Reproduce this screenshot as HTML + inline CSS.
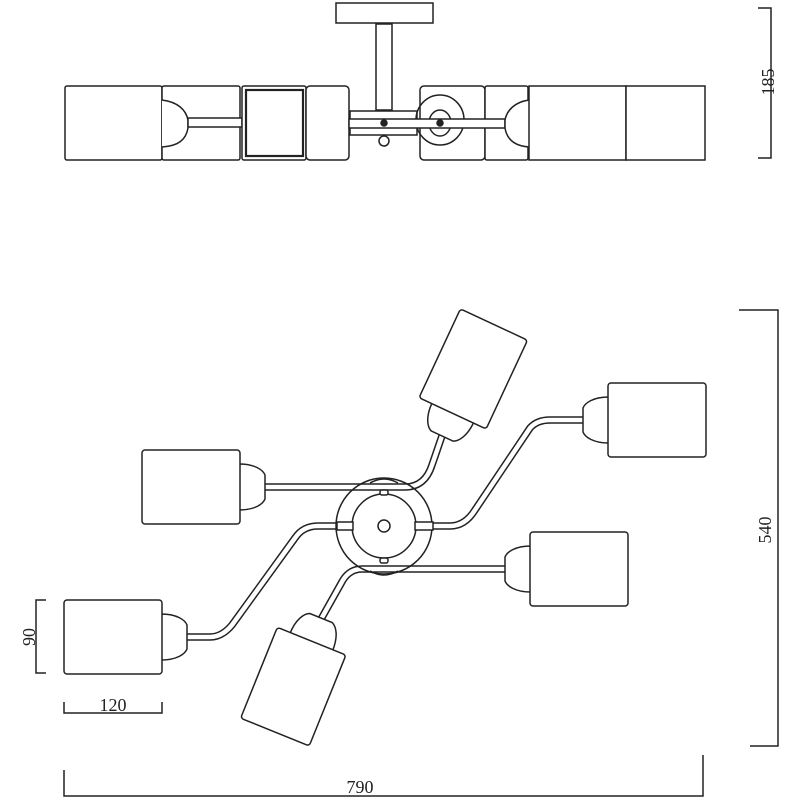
<!DOCTYPE html>
<html><head><meta charset="utf-8"><style>
html,body{margin:0;padding:0;background:#fff;}
svg{display:block}
text{font-family:"Liberation Serif",serif;fill:#222}
</style></head><body>
<svg width="800" height="800" viewBox="0 0 800 800" xmlns="http://www.w3.org/2000/svg">
<defs>
<g id="lamp" fill="#fff" stroke="#222" stroke-width="1.5">
<path d="M26,-23 C10,-23 2,-17 0,-12 L0,12 C2,17 10,23 26,23 Z"/>
<rect x="25" y="-37" width="98" height="74" rx="3"/>
</g>
</defs>
<g fill="none" stroke="#222" stroke-width="1.5">
<rect x="336" y="3" width="97" height="20" fill="#fff"/>
<rect x="376" y="24" width="16" height="86" fill="#fff"/>
<rect x="65" y="86" width="97" height="74" rx="2" fill="#fff"/>
<rect x="162" y="86" width="78" height="74" rx="2" fill="#fff"/>
<path d="M162,100 C178,102 186,110 188,120 L188,128 C186,140 178,146 162,147" fill="#fff"/>
<rect x="188" y="118" width="54" height="9" fill="#fff"/>
<rect x="242" y="86" width="64" height="74" rx="2" fill="#fff"/>
<rect x="246" y="90" width="57" height="66" stroke-width="2.2"/>
<rect x="306" y="86" width="43" height="74" rx="4" fill="#fff"/>
<rect x="350" y="111" width="67" height="24" fill="#fff"/>
<circle cx="384" cy="141" r="5" fill="#fff"/>
<rect x="420" y="86" width="65" height="74" rx="4" fill="#fff"/>
<rect x="485" y="86" width="43" height="74" rx="2" fill="#fff"/>
<ellipse cx="440" cy="120" rx="24" ry="25"/>
<ellipse cx="440" cy="123" rx="11" ry="13"/>
<rect x="349" y="119" width="156" height="9" fill="#fff"/>
<circle cx="384" cy="123" r="3" fill="#222"/>
<circle cx="440" cy="123" r="3" fill="#222"/>
<path d="M529,100 C515,102 507,110 505,120 L505,128 C507,140 515,146 529,147" fill="#fff"/>
<rect x="529" y="86" width="97" height="74" fill="#fff"/>
<rect x="626" y="86" width="79" height="74" fill="#fff"/>
<path d="M758,8 H771 V158 H758"/>
</g>
<text x="0" y="0" font-size="18" transform="translate(774,82) rotate(-90)" text-anchor="middle">185</text>

<g fill="none" stroke-linejoin="round" stroke-linecap="butt">
<g stroke="#222" stroke-width="7.5">
<path d="M265,487 L405,487 Q425,487 432,465 L443,433"/>
<path d="M433,526 L450,526 Q465,526 475,510 L530,428 Q537,420 550,420 L585,420"/>
<path d="M337,526 L318,526 Q303,526 295,538 L232,625 Q222,637 210,637 L186,637"/>
<path d="M507,569 L362,569 Q350,569 343,580 L320,621"/>
</g>
<g stroke="#fff" stroke-width="4.5">
<path d="M265,487 L405,487 Q425,487 432,465 L443,433"/>
<path d="M433,526 L450,526 Q465,526 475,510 L530,428 Q537,420 550,420 L585,420"/>
<path d="M337,526 L318,526 Q303,526 295,538 L232,625 Q222,637 210,637 L186,637"/>
<path d="M507,569 L362,569 Q350,569 343,580 L320,621"/>
</g>
</g>
<g fill="none" stroke="#222" stroke-width="1.5">
<path d="M370,483 Q384,475 398,483"/>
<path d="M370,571 Q384,579 398,571"/>
<circle cx="384" cy="526" r="48"/>
<circle cx="384" cy="526" r="32" fill="#fff"/>
<circle cx="384" cy="526" r="6"/>
<rect x="337" y="522" width="16" height="8" fill="#fff"/>
<rect x="415" y="522" width="18" height="8" fill="#fff"/>
<rect x="380" y="490" width="8" height="5" rx="2" fill="#fff"/>
<rect x="380" y="558" width="8" height="5" rx="2" fill="#fff"/>
</g>
<use href="#lamp" transform="translate(583,420)"/>
<use href="#lamp" transform="translate(505,569)"/>
<use href="#lamp" transform="translate(265,487) scale(-1,1)"/>
<use href="#lamp" transform="translate(187,637) scale(-1,1)"/>
<use href="#lamp" transform="translate(442,436) rotate(-65)"/>
<use href="#lamp" transform="translate(321,618) rotate(112)"/>

<g fill="none" stroke="#222" stroke-width="1.5">
<path d="M739,310 H778 V746 H750"/>
<path d="M64,770 V796 H703 V755"/>
<path d="M64,702 V713 H162 V702"/>
<path d="M46,600 H36 V673 H46"/>
</g>
<text x="771" y="530" font-size="18" transform="rotate(-90 771 530)" text-anchor="middle">540</text>
<text x="360" y="793" font-size="18" text-anchor="middle">790</text>
<text x="113" y="711" font-size="18" text-anchor="middle">120</text>
<text x="0" y="0" font-size="18" transform="translate(35,637) rotate(-90)" text-anchor="middle">90</text>
</svg>
</body></html>
